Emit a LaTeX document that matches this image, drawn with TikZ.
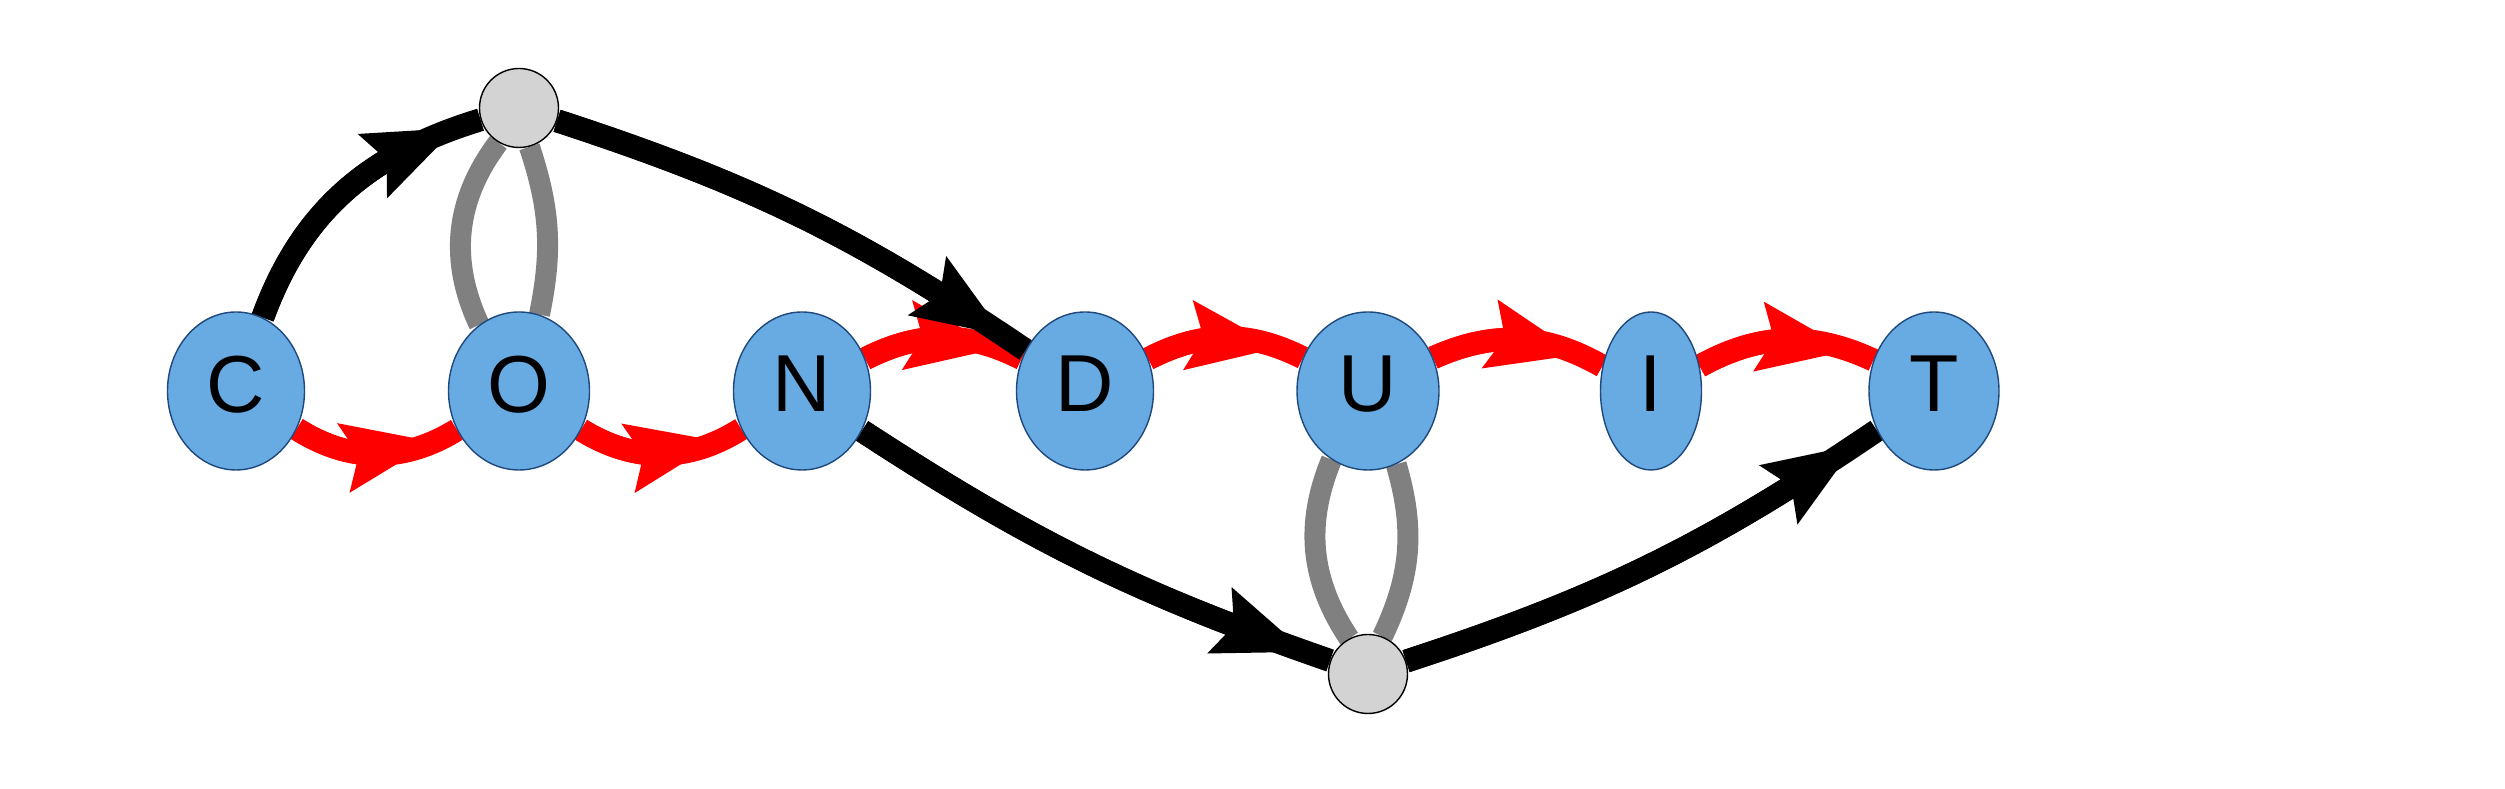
\documentclass[tikz,border=0pt]{standalone}
\usepackage{fontspec}
\setmainfont{Liberation Sans}
\usetikzlibrary{arrows.meta, bending, positioning, shapes.geometric, backgrounds}
\definecolor{letterblue}{RGB}{104,170,226}
\definecolor{rimblue}{RGB}{31,73,125}
\definecolor{hubgray}{RGB}{211,211,211}
\definecolor{loopgray}{RGB}{128,128,128}
\tikzset{
  headmark/.style={postaction={draw, shorten >=2.5mm, -{Stealth[length=9mm, width=6.6mm, inset=1.3mm, flex]}}},
  redflow/.style={draw=red, line width=2.3mm, headmark},
  blackflow/.style={draw=black, line width=2.3mm, headmark},
  grayloop/.style={draw=loopgray, line width=2.1mm},
  hub/.style={circle, draw=black, line width=0.4pt, fill=hubgray, minimum size=0.79cm, inner sep=0pt},
}

\begin{document}
\begin{tikzpicture}[node distance=2.83cm]
	\tikzstyle{letter}=[ellipse, draw=rimblue, line width=0.4pt, fill=letterblue, inner sep=0pt,
	  minimum width=1.37cm, minimum height=1.58cm, text depth=1.4mm, font=\fontsize{23}{27}\selectfont]
	\useasboundingbox (0,0) rectangle (25.05,7.89);

		\node[letter] (C) at (2.36,3.98) {C};
		\node[letter, minimum width=1.41cm] (O) [right of=C] {O};
		\node[letter] (N) [right of=O] {N};
		\node[letter] (D) [right of=N] {D};
		\node[letter, minimum width=1.42cm] (U) [right of=D] {U};
		\node[letter, minimum width=1.01cm] (I) [right of=U] {I};
		\node[letter, minimum width=1.3cm] (T) [right of=I] {T};
		\node[hub] (top) [above of=O] {};
		\node[hub] (bot) [below of=U] {};

	\begin{scope}[on background layer]
		\path 	(C) edge[redflow, bend right=32] (O)
				(O) edge[redflow, bend right=32] (N)
				(N) edge[redflow, bend left=27] (D)
				(D) edge[redflow, bend left=27] (U)
				(U) edge[redflow, bend left=27] (I)
				(I) edge[redflow, bend left=27] (T);
		\path 	(C) edge[blackflow, out=70, in=197] (top)
				(top) edge[blackflow, bend left=8] (D)
				(N) edge[blackflow, bend right=7] (bot)
				(bot) edge[blackflow, bend right=8] (T);
		\path 	(top) edge[grayloop, bend right=31] (O)
				(top) edge[grayloop, bend left=15] (O)
				(U) edge[grayloop, bend right=28] (bot)
				(U) edge[grayloop, bend left=21] (bot);
	\end{scope}
\end{tikzpicture}
\end{document}
